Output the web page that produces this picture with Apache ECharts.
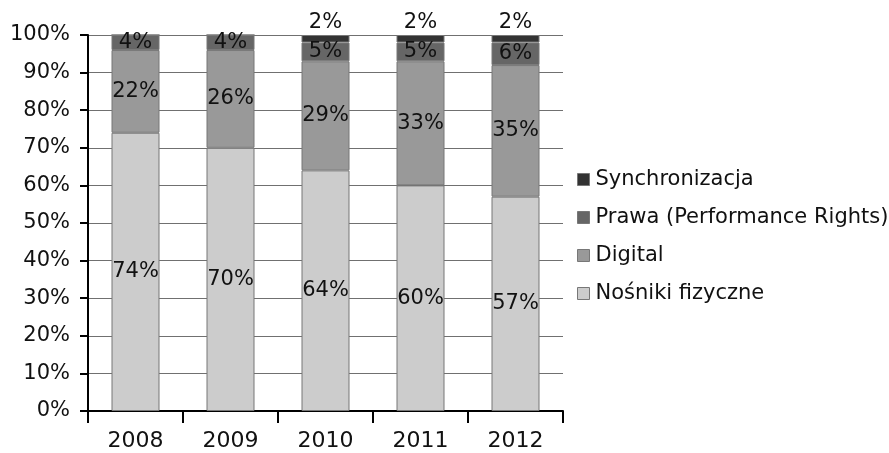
<!DOCTYPE html>
<html>
<head>
<meta charset="utf-8">
<script src="https://cdn.jsdelivr.net/npm/echarts@6/dist/echarts.min.js"></script>
<style>
  html, body { margin: 0; padding: 0; background: #fff; }
  #main { width: 889px; height: 453px; }
</style>
</head>
<body>
<div id="main"></div>
<script>
// dane z wykresu (udział procentowy)
var years = ["2008", "2009", "2010", "2011", "2012"];
var nosniki = [74, 70, 64, 60, 57];
var digital = [22, 26, 29, 33, 35];
var prawa = [4, 4, 5, 5, 6];
var synchronizacja = [0, 0, 2, 2, 2];

var font = "DejaVu Sans";

function pct(p) {
  return p.value ? p.value + "%" : "";
}

function barSeries(name, data, color, pos) {
  return {
    name: name,
    type: "bar",
    stack: "total",
    barWidth: 48,
    data: data,
    itemStyle: { color: color, borderColor: "#777", borderWidth: 1 },
    label: {
      show: true,
      position: pos,
      distance: 2,
      formatter: pct,
      color: "#111",
      fontFamily: font,
      fontSize: 21
    }
  };
}

var chart = echarts.init(document.getElementById("main"));
chart.setOption({
  animation: false,
  backgroundColor: "#fff",
  grid: { left: 88, right: 326, top: 35, bottom: 42 },
  legend: {
    orient: "vertical",
    left: 572,
    top: 164,
    itemWidth: 12,
    itemHeight: 12,
    itemGap: 17,
    icon: "rect",
    data: ["Synchronizacja", "Prawa (Performance Rights)", "Digital", "Nośniki fizyczne"],
    itemStyle: { borderColor: "#777", borderWidth: 1 },
    textStyle: { fontFamily: font, fontSize: 21, color: "#111", padding: [0, 0, 0, 1] }
  },
  xAxis: {
    type: "category",
    data: years,
    axisLine: { lineStyle: { color: "#000", width: 2 } },
    axisTick: { show: true, length: 12, lineStyle: { color: "#000", width: 2 } },
    axisLabel: { fontFamily: font, fontSize: 22, color: "#111", margin: 19 }
  },
  yAxis: {
    type: "value",
    min: 0,
    max: 100,
    interval: 10,
    axisLine: { show: true, lineStyle: { color: "#000", width: 2 } },
    axisTick: { show: true, length: 8, lineStyle: { color: "#000", width: 2 } },
    axisLabel: { formatter: "{value}%", fontFamily: font, fontSize: 21, color: "#111", margin: 18 },
    splitLine: { lineStyle: { color: "#707070", width: 1 } }
  },
  series: [
    barSeries("Nośniki fizyczne", nosniki, "#cccccc", "inside"),
    barSeries("Digital", digital, "#999999", "inside"),
    barSeries("Prawa (Performance Rights)", prawa, "#666666", "inside"),
    barSeries("Synchronizacja", synchronizacja, "#333333", "top")
  ]
});
</script>
</body>
</html>
